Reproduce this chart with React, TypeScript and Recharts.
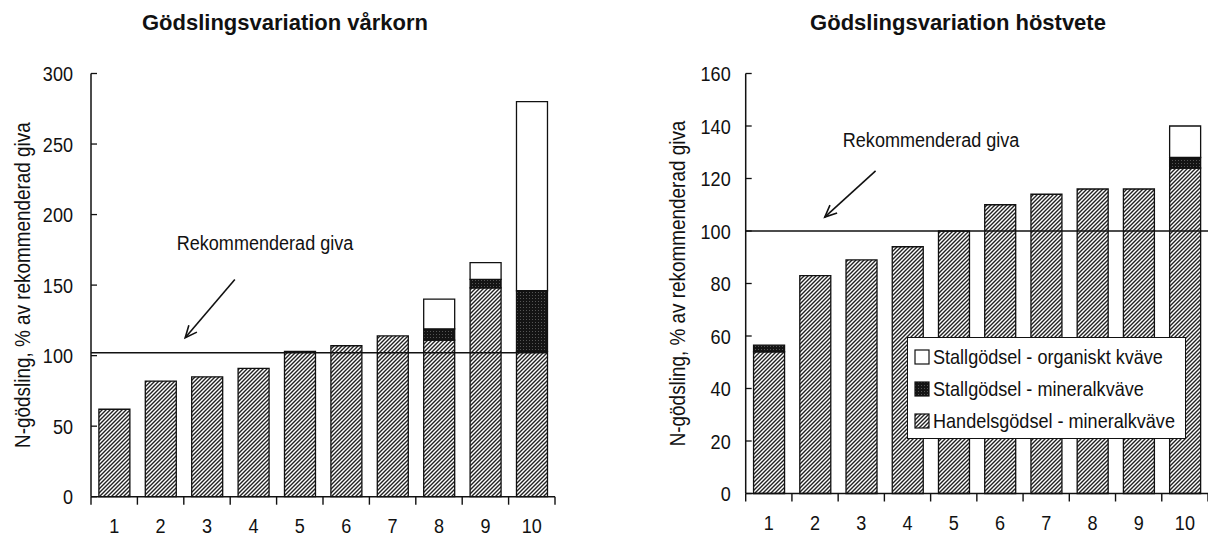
import React from "react";
import { BarChart, Bar, XAxis, YAxis, ReferenceLine, ReferenceDot, Legend } from "recharts";

const farms = ["1", "2", "3", "4", "5", "6", "7", "8", "9", "10"];

// Vårkorn: N per farm as % of the recommended rate
const varkornHandels = [62, 82, 85, 91, 103, 107, 114, 111, 148, 103];
const varkornStallMineral = [0, 0, 0, 0, 0, 0, 0, 8, 6, 43];
const varkornStallOrganisk = [0, 0, 0, 0, 0, 0, 0, 21, 12, 134];
const varkornTicks = [0, 50, 100, 150, 200, 250, 300];
const varkornRek = 102;

// Höstvete
const hostveteHandels = [54, 83, 89, 94, 100, 110, 114, 116, 116, 124];
const hostveteStallMineral = [2.5, 0, 0, 0, 0, 0, 0, 0, 0, 4];
const hostveteStallOrganisk = [0, 0, 0, 0, 0, 0, 0, 0, 0, 12];
const hostveteTicks = [0, 20, 40, 60, 80, 100, 120, 140, 160];
const hostveteRek = 100;

const seriesKeys = ["handels", "mineral", "organisk"];
const seriesNames: Record<string, string> = {
  handels: "Handelsgödsel - mineralkväve",
  mineral: "Stallgödsel - mineralkväve",
  organisk: "Stallgödsel - organiskt kväve",
};
const seriesFill: Record<string, string> = {
  handels: "url(#hatch)",
  mineral: "url(#stipple)",
  organisk: "#ffffff",
};

const FONT = "'Liberation Sans', Arial, sans-serif";
const SQUEEZE = 0.86; // the figure uses a narrow face
const INK = "#111";

// pos = band centre on the helper number axis (0..farms.length)
const buildRows = (h: number[], m: number[], o: number[]) =>
  farms.map((farm, i) => ({ farm, pos: i + 0.5, handels: h[i], mineral: m[i], organisk: o[i] }));

const varkornRows = buildRows(varkornHandels, varkornStallMineral, varkornStallOrganisk);
const hostveteRows = buildRows(hostveteHandels, hostveteStallMineral, hostveteStallOrganisk);

// edge ticks at band borders, labels at band centres
const edgeTicks = [...farms.map((_, i) => i), farms.length];
const centreTicks = farms.map((_, i) => i + 0.5);
const xTicks = [...edgeTicks, ...centreTicks].sort((a, b) => a - b);

// narrow text: regular face squeezed horizontally
const NText = ({ x, y, anchor = "middle", rotate = 0, size = 21, children }: any) => (
  <text
    transform={`translate(${x} ${y}) rotate(${rotate}) scale(${SQUEEZE} 1)`}
    x={0}
    y={0}
    textAnchor={anchor}
    dominantBaseline="central"
    fontFamily={FONT}
    fontSize={size}
    fill={INK}
  >
    {children}
  </text>
);

const XTick = (props: any) => {
  const { x, y, payload } = props;
  const v = payload.value as number;
  if (Number.isInteger(v)) {
    return <line x1={x} x2={x} y1={y} y2={y + 8} stroke={INK} strokeWidth={1.4} />;
  }
  return (
    <NText x={x} y={y + 28.5}>
      {farms[Math.floor(v)]}
    </NText>
  );
};

const makeYTick = (gap: number) => (props: any) => {
  const { x, y, payload } = props;
  return (
    <g>
      <line x1={x} x2={x + 6} y1={y} y2={y} stroke={INK} strokeWidth={1.3} />
      <NText x={x - gap} y={y} anchor="end">
        {payload.value}
      </NText>
    </g>
  );
};

const yLabel = (cx: number) => (props: any) => {
  const vb = props.viewBox;
  return (
    <NText x={vb.x + cx} y={vb.y + vb.height / 2} rotate={-90} size={22}>
      N-gödsling, % av rekommenderad giva
    </NText>
  );
};

const Arrow = (props: any) => {
  const { x1, y1, x2, y2 } = props;
  const ang = Math.atan2(y2 - y1, x2 - x1);
  const len = 13;
  const spread = 0.42;
  const ax = x2 - len * Math.cos(ang - spread);
  const ay = y2 - len * Math.sin(ang - spread);
  const bx = x2 - len * Math.cos(ang + spread);
  const by = y2 - len * Math.sin(ang + spread);
  return (
    <g stroke={INK} strokeWidth={1.6} fill="none">
      <line x1={x1} y1={y1} x2={x2} y2={y2} />
      <polyline points={`${ax},${ay} ${x2},${y2} ${bx},${by}`} />
    </g>
  );
};

const rekText = (props: any) => (
  <NText x={props.cx} y={props.cy}>
    Rekommenderad giva
  </NText>
);

const LegendBox = () => (
  <div
    style={{
      width: 279,
      height: 102,
      border: "1.5px solid #111",
      background: "#fff",
      fontFamily: FONT,
      fontSize: 21,
      color: INK,
      boxSizing: "border-box",
      padding: "3px 0 0 6px",
    }}
  >
    {[...seriesKeys].reverse().map((k) => (
      <div key={k} style={{ display: "flex", alignItems: "center", height: 32, whiteSpace: "nowrap" }}>
        <svg width={16} height={16} style={{ marginRight: 3, flex: "none" }}>
          <rect x={1} y={1} width={14} height={14} fill={seriesFill[k]} stroke={INK} strokeWidth={1.2} />
        </svg>
        <span style={{ display: "inline-block", transform: `scaleX(${SQUEEZE})`, transformOrigin: "left center" }}>
          {seriesNames[k]}
        </span>
      </div>
    ))}
  </div>
);

type PanelProps = {
  rows: any[];
  ticks: number[];
  rek: number;
  rekEnd: number;
  arrow: { x: number; y: number }[];
  textAt: { x: number; y: number };
  margin: { top: number; right: number; left: number; bottom: number };
  yWidth: number;
  xHeight: number;
  tickGap: number;
  labelX: number;
  legend?: boolean;
};

const Panel = (p: PanelProps) => (
  <BarChart width={604} height={536} data={p.rows} margin={p.margin} barCategoryGap="17%">
    <XAxis xAxisId="cat" dataKey="farm" hide height={0} />
    <XAxis
      xAxisId="n"
      dataKey="pos"
      type="number"
      domain={[0, farms.length]}
      ticks={xTicks}
      interval={0}
      height={p.xHeight}
      tickLine={false}
      tickSize={0}
      tickMargin={0}
      tick={XTick}
      axisLine={{ stroke: INK, strokeWidth: 1.5 }}
      allowDataOverflow
    />
    <YAxis
      type="number"
      domain={[0, p.ticks[p.ticks.length - 1]]}
      ticks={p.ticks}
      interval={0}
      width={p.yWidth}
      tickLine={false}
      tickSize={0}
      tickMargin={0}
      tick={makeYTick(p.tickGap)}
      axisLine={{ stroke: INK, strokeWidth: 1.5 }}
      label={yLabel(p.labelX)}
    />
    {seriesKeys.map((k) => (
      <Bar
        key={k}
        xAxisId="cat"
        dataKey={k}
        name={seriesNames[k]}
        stackId="n"
        fill={seriesFill[k]}
        stroke={INK}
        strokeWidth={1.3}
        isAnimationActive={false}
      />
    ))}
    <ReferenceLine
      xAxisId="n"
      segment={[{ x: 0, y: p.rek }, { x: p.rekEnd, y: p.rek }]}
      stroke={INK}
      strokeWidth={1.6}
      ifOverflow="visible"
    />
    <ReferenceLine xAxisId="n" segment={p.arrow} shape={Arrow} ifOverflow="visible" />
    <ReferenceDot xAxisId="n" x={p.textAt.x} y={p.textAt.y} r={0} shape={rekText} ifOverflow="visible" />
    {p.legend && (
      <Legend
        layout="horizontal"
        align="center"
        verticalAlign="middle"
        wrapperStyle={{ left: 303, top: 337, width: 279 }}
        content={LegendBox}
      />
    )}
  </BarChart>
);

const titleStyle: React.CSSProperties = {
  position: "absolute",
  top: 10,
  width: 400,
  textAlign: "center",
  fontFamily: FONT,
  fontWeight: 700,
  fontSize: 22,
  color: INK,
};

export default function App() {
  return (
    <div style={{ position: "absolute", left: 0, top: 0, width: 1208, height: 536, background: "#fff", overflow: "hidden" }}>
      <svg width={0} height={0} style={{ position: "absolute" }}>
        <defs>
          <pattern id="hatch" patternUnits="userSpaceOnUse" width={4} height={4}>
            <rect width={4} height={4} fill="#fff" />
            <path d="M-1,1 l2,-2 M0,4 l4,-4 M3,5 l2,-2" stroke="#222" strokeWidth={1.4} />
          </pattern>
          <pattern id="stipple" patternUnits="userSpaceOnUse" width={3} height={3}>
            <rect width={3} height={3} fill="#141414" />
            <rect x={1} y={1} width={1} height={1} fill="#555" />
          </pattern>
        </defs>
      </svg>
      <div style={{ ...titleStyle, left: 85 }}>Gödslingsvariation vårkorn</div>
      <div style={{ ...titleStyle, left: 758 }}>Gödslingsvariation höstvete</div>
      <div style={{ position: "absolute", left: 0, top: 0 }}>
        <Panel
          rows={varkornRows}
          ticks={varkornTicks}
          rek={varkornRek}
          rekEnd={9.83}
          arrow={[{ x: 3.1, y: 154 }, { x: 2.03, y: 112.7 }]}
          textAt={{ x: 3.75, y: 180.5 }}
          margin={{ top: 73.5, right: 49, left: 0, bottom: 0 }}
          yWidth={91}
          xHeight={39.3}
          tickGap={18}
          labelX={22}
        />
      </div>
      <div style={{ position: "absolute", left: 604, top: 0 }}>
        <Panel
          rows={hostveteRows}
          ticks={hostveteTicks}
          rek={hostveteRek}
          rekEnd={10}
          arrow={[{ x: 2.81, y: 122.9 }, { x: 1.71, y: 105.3 }]}
          textAt={{ x: 4.01, y: 134.7 }}
          margin={{ top: 73.5, right: 0, left: 0, bottom: 0 }}
          yWidth={141.7}
          xHeight={42.5}
          tickGap={15}
          labelX={73}
          legend
        />
      </div>
    </div>
  );
}
